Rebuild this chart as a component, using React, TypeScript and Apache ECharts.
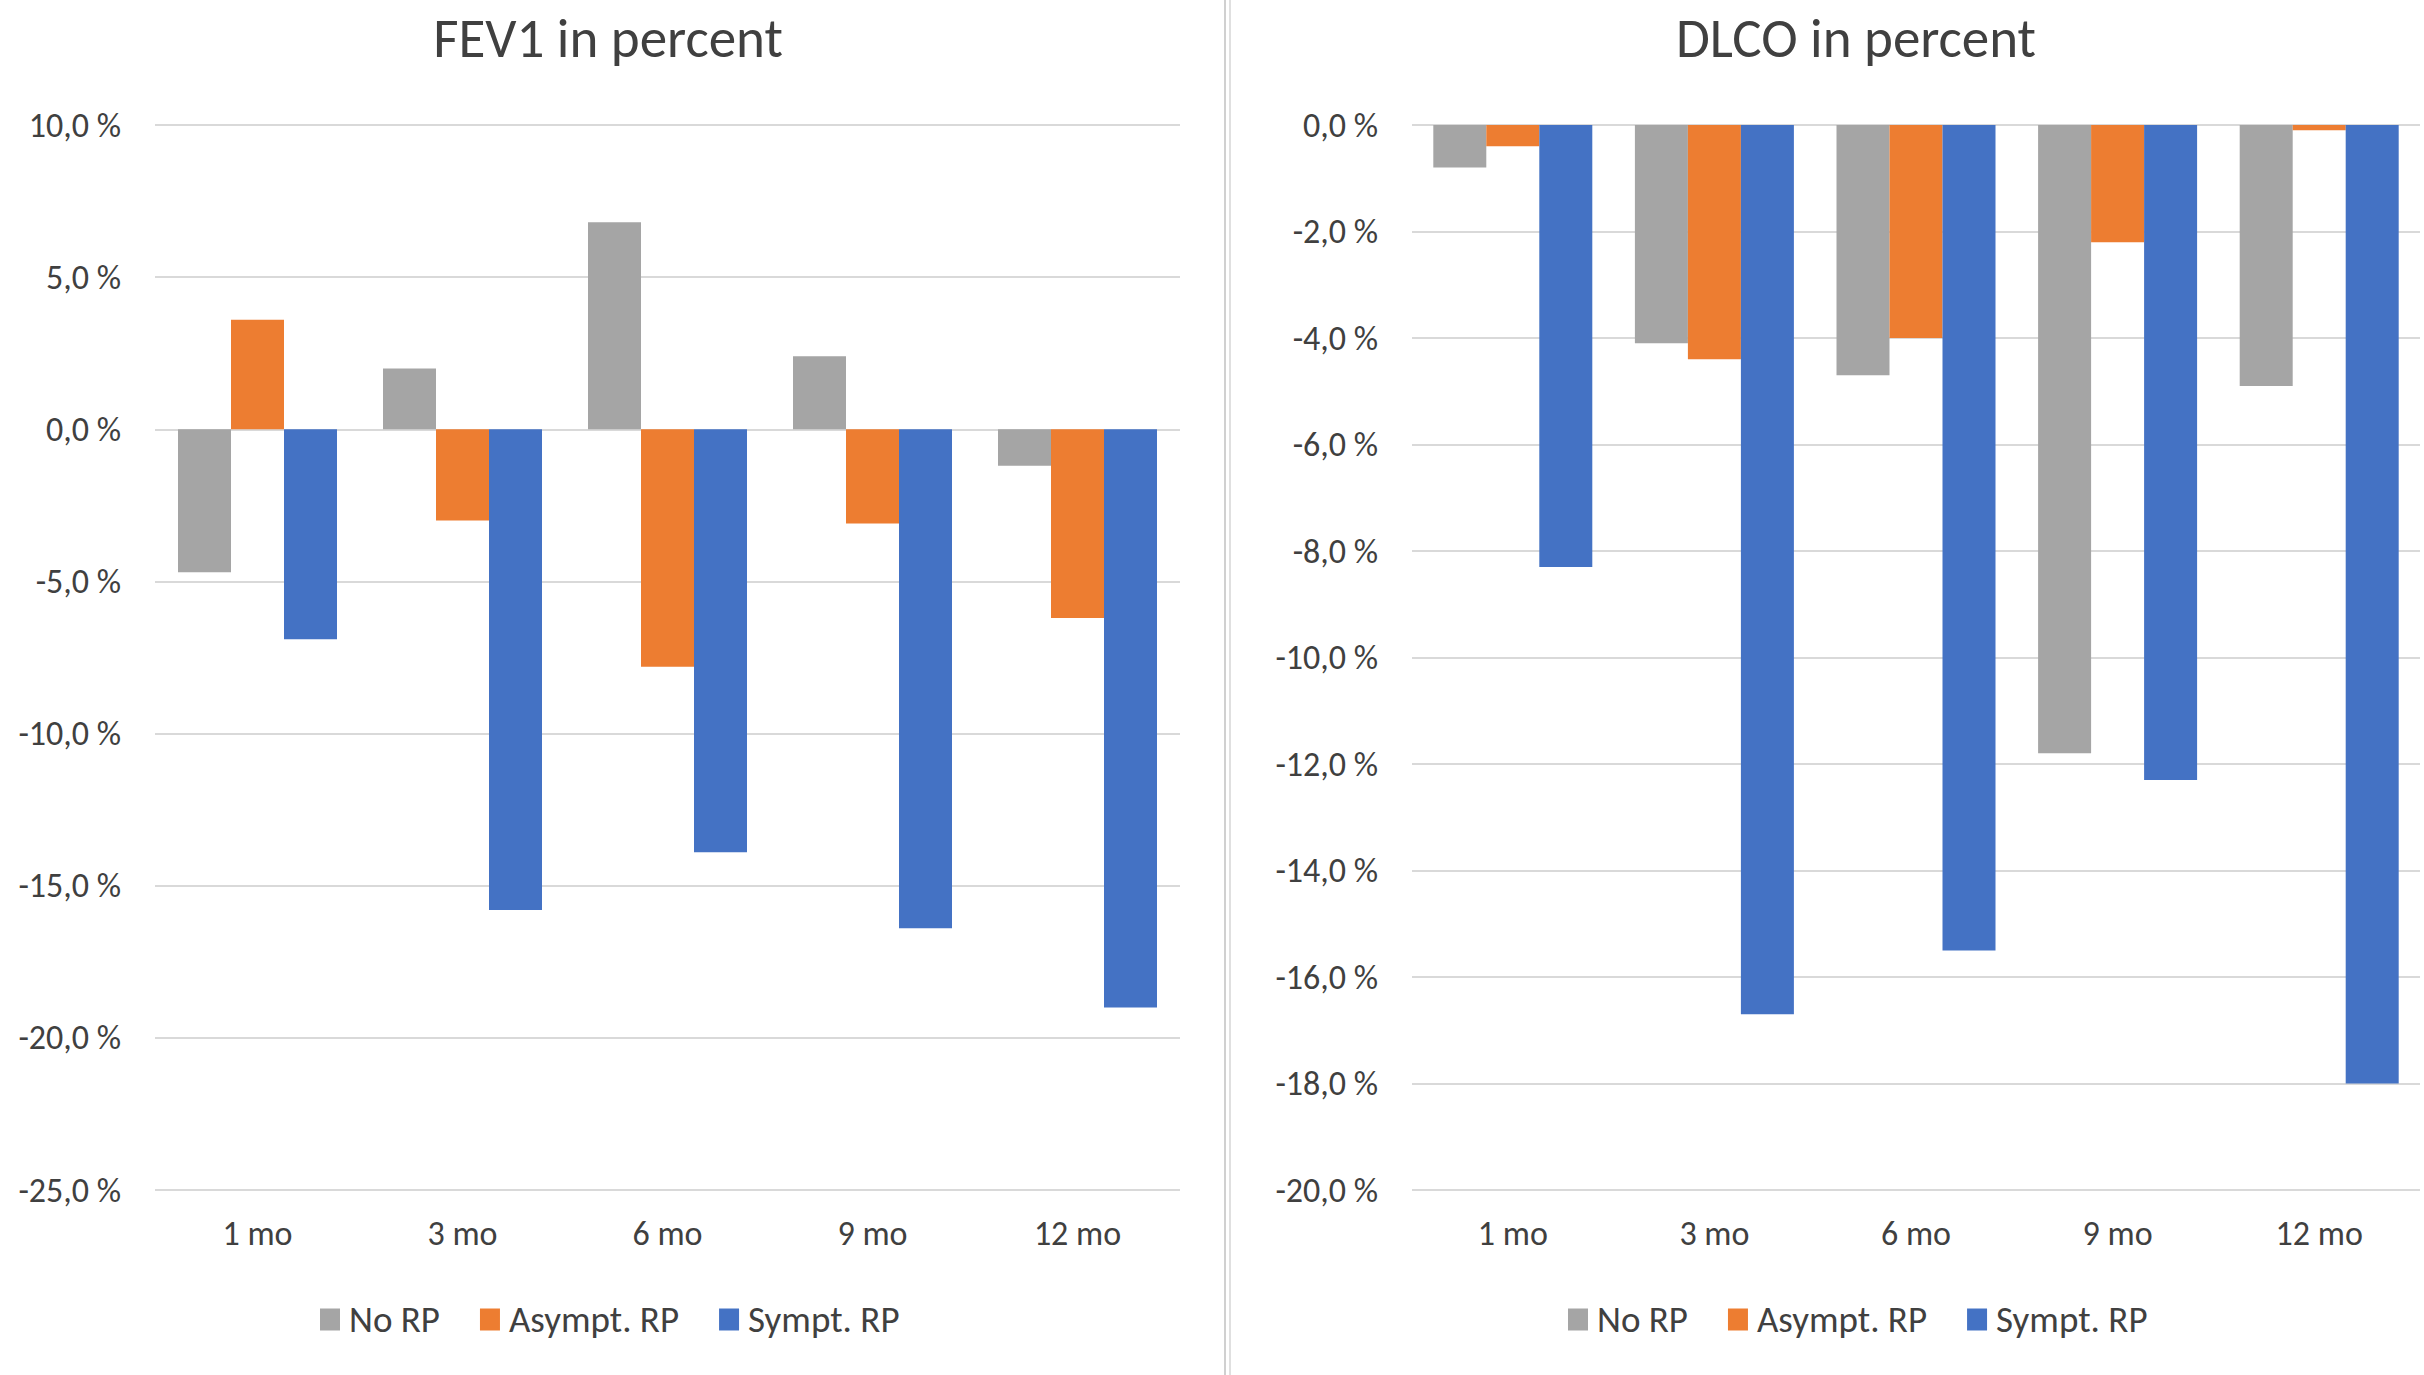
import React, { useEffect, useRef } from "react";
import * as echarts from "echarts";

const categories = ["1 mo", "3 mo", "6 mo", "9 mo", "12 mo"];
const seriesNames = ["No RP", "Asympt. RP", "Sympt. RP"];
const seriesColors = ["#A5A5A5", "#ED7D31", "#4472C4"];

const fevNoRP = [-4.7, 2.0, 6.8, 2.4, -1.2];
const fevAsympt = [3.6, -3.0, -7.8, -3.1, -6.2];
const fevSympt = [-6.9, -15.8, -13.9, -16.4, -19.0];

const dlcoNoRP = [-0.8, -4.1, -4.7, -11.8, -4.9];
const dlcoAsympt = [-0.4, -4.4, -4.0, -2.2, -0.1];
const dlcoSympt = [-8.3, -16.7, -15.5, -12.3, -18.0];

const fevAxis = [-25, 10, 5]; // min, max, interval
const dlcoAxis = [-20, 0, 2];

const titles = ["FEV1 in percent", "DLCO in percent"];

const FONT = "Carlito, 'Open Sans', sans-serif";
const TEXT = "#404040";
const GRIDC = "#D9D9D9";

const fmt = (v: number) => v.toFixed(1).replace(".", ",") + " %";

export default function App() {
  const ref = useRef<HTMLDivElement>(null);
  useEffect(() => {
    document.body.style.margin = "0";
    const chart = echarts.init(ref.current!, null, { renderer: "svg" });
    const yAxis = (ax: number[], gi: number) => ({
      type: "value",
      gridIndex: gi,
      min: ax[0],
      max: ax[1],
      interval: ax[2],
      axisLine: { show: false },
      axisTick: { show: false },
      axisLabel: { formatter: fmt, fontSize: 34, color: TEXT, fontFamily: FONT, margin: 34 },
      splitLine: { lineStyle: { color: GRIDC, width: 2 } },
    });
    const xAxis = (gi: number) => ({
      type: "category",
      gridIndex: gi,
      data: categories,
      axisLine: { show: false, onZero: false },
      axisTick: { show: false },
      axisLabel: { fontSize: 34, color: TEXT, fontFamily: FONT, margin: 26 },
    });
    const bar = (name: string, data: number[], color: string, gi: number) => ({
      type: "bar",
      name,
      data,
      xAxisIndex: gi,
      yAxisIndex: gi,
      barWidth: 53,
      barGap: "0%",
      itemStyle: { color },
    });
    const legend = (left: number) => ({
      left,
      top: 1296,
      data: seriesNames,
      icon: "rect",
      itemWidth: 20,
      itemHeight: 22,
      itemGap: 40,
      selectedMode: false,
      textStyle: { fontSize: 37, color: TEXT, fontFamily: FONT, padding: [0, 0, 0, 4] },
    });
    chart.setOption({
      animation: false,
      backgroundColor: "#ffffff",
      title: [
        { text: titles[0], left: 603, textAlign: "center", top: 6, textStyle: { fontSize: 55, fontWeight: "normal", color: TEXT, fontFamily: FONT } },
        { text: titles[1], left: 1851, textAlign: "center", top: 6, textStyle: { fontSize: 55, fontWeight: "normal", color: TEXT, fontFamily: FONT } },
      ],
      legend: [legend(315), legend(1563)],
      grid: [
        { left: 155, right: 2424 - 1180, top: 125, bottom: 1375 - 1190 },
        { left: 1412, right: 4, top: 125, bottom: 1375 - 1190 },
      ],
      xAxis: [xAxis(0), xAxis(1)],
      yAxis: [yAxis(fevAxis, 0), yAxis(dlcoAxis, 1)],
      series: [
        bar(seriesNames[0], fevNoRP, seriesColors[0], 0),
        bar(seriesNames[1], fevAsympt, seriesColors[1], 0),
        bar(seriesNames[2], fevSympt, seriesColors[2], 0),
        bar(seriesNames[0], dlcoNoRP, seriesColors[0], 1),
        bar(seriesNames[1], dlcoAsympt, seriesColors[1], 1),
        bar(seriesNames[2], dlcoSympt, seriesColors[2], 1),
      ],
      graphic: [
        { type: "line", shape: { x1: 1225, y1: 0, x2: 1225, y2: 1375 }, style: { stroke: "#D0D0D0", lineWidth: 2 } },
        { type: "line", shape: { x1: 1230, y1: 0, x2: 1230, y2: 1375 }, style: { stroke: "#E0E0E0", lineWidth: 2 } },
      ],
    });
    return () => chart.dispose();
  }, []);
  return <div ref={ref} style={{ width: 2424, height: 1375 }} />;
}
